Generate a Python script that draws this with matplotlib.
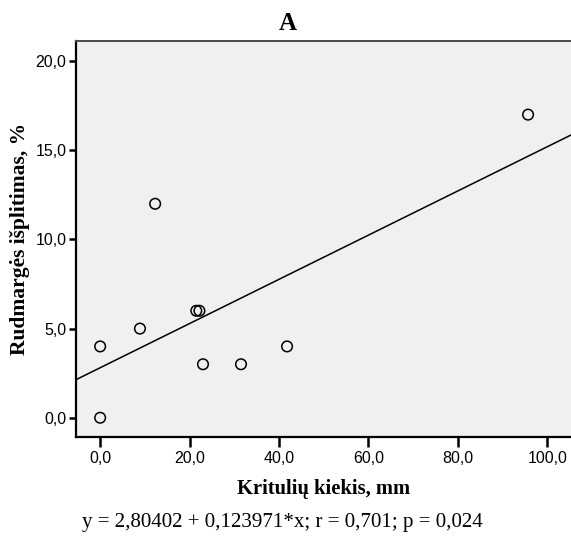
import matplotlib.pyplot as plt
import numpy as np

# rainfall (mm) vs spread (%)
krituliai = [0.0, 0.0, 8.9, 12.3, 21.5, 22.2, 23.0, 31.5, 41.8, 95.7]
isplitimas = [0.0, 4.0, 5.0, 12.0, 6.0, 6.0, 3.0, 3.0, 4.0, 17.0]
a0, a1 = 2.80402, 0.123971

x_ticks = [0, 20, 40, 60, 80, 100]
y_ticks = [0, 5, 10, 15, 20]

def kablelis(v):
    return ("%.1f" % v).replace(".", ",")

fig = plt.figure(figsize=(5.71, 5.36), dpi=100)
W, H = 571, 536
ax = fig.add_axes([76 / W, 1 - 437 / H, (571 - 76) / W, (437 - 41) / H])
ax.set_facecolor("#f0f0f0")

xlim = (-5.4, 105.3)
ylim = (-1.08, 21.13)
ax.set_xlim(xlim)
ax.set_ylim(ylim)

ax.scatter(krituliai, isplitimas, s=58, facecolors="none", edgecolors="black",
           linewidths=1.1, zorder=3)
xs = np.array(xlim)
ax.plot(xs, a0 + a1 * xs, color="black", lw=1.1, zorder=2)

ax.set_xticks(x_ticks)
ax.set_xticklabels([kablelis(v) for v in x_ticks])
ax.set_yticks(y_ticks)
ax.set_yticklabels([kablelis(v) for v in y_ticks])
ax.tick_params(axis="x", direction="out", length=7, width=1.8, pad=3,
               labelsize=11.5, colors="black")
ax.tick_params(axis="y", direction="out", length=5, width=1.8, pad=2,
               labelsize=11.5, colors="black")
for lab in ax.get_xticklabels() + ax.get_yticklabels():
    lab.set_fontfamily("Liberation Sans")

ax.spines["right"].set_visible(False)
ax.spines["left"].set_linewidth(1.6)
ax.spines["bottom"].set_linewidth(1.6)
ax.spines["top"].set_color("#4a4a4a")
ax.spines["top"].set_linewidth(1.4)

serif = "Liberation Serif"
fig.text(288 / W, 1 - 23 / H, "A", ha="center", va="center", fontsize=18,
         fontweight="bold", family=serif)
fig.text(20 / W, 1 - 239 / H, "Rudmargės išplitimas, %", ha="center", va="center",
         rotation=90, fontsize=15.5, fontweight="bold", family=serif)
fig.text(324 / W, 1 - 489 / H, "Kritulių kiekis, mm", ha="center", va="center",
         fontsize=14.8, fontweight="bold", family=serif)
fig.text(282 / W, 1 - 523 / H, "y = 2,80402 + 0,123971*x; r = 0,701; p = 0,024",
         ha="center", va="center", fontsize=15.1, family=serif)

fig.savefig("out.png", dpi=100)
